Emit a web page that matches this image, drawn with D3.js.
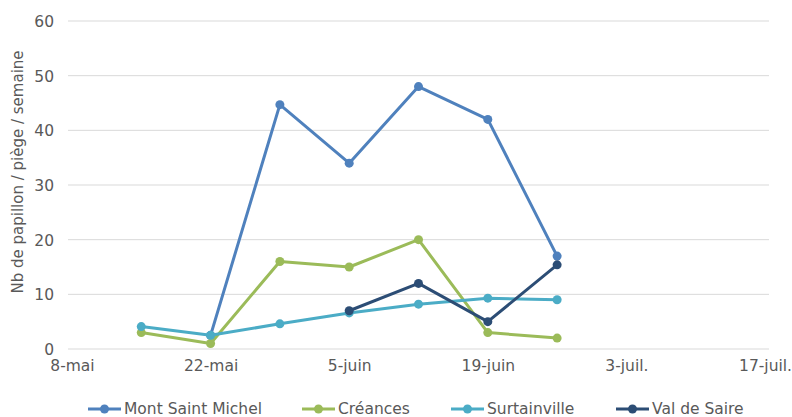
<!DOCTYPE html>
<html><head><meta charset="utf-8">
<script src="https://cdn.jsdelivr.net/npm/d3@7/dist/d3.min.js"></script>
<style>body{margin:0;background:#fff}svg{display:block}text{font-family:"DejaVu Sans",Verdana,sans-serif;fill:#595959}</style>
</head><body><svg id="c" width="792" height="417"></svg>
<script>
const dates = ["2018-05-15","2018-05-22","2018-05-29","2018-06-05","2018-06-12","2018-06-19","2018-06-26"];
const seriesNames = ["Mont Saint Michel","Créances","Surtainville","Val de Saire"];
const colors = ["#4f81bd","#9bbb59","#4bacc6","#2c4d75"];
const montSaintMichel = [null, 2.5, 44.7, 34, 48, 42, 17];
const creances = [3, 1, 16, 15, 20, 3, 2];
const surtainville = [4.1, 2.5, 4.6, 6.6, 8.2, 9.3, 9];
const valDeSaire = [null, null, null, 7, 12, 5, 15.4];
const xTicks = ["2018-05-08","2018-05-22","2018-06-05","2018-06-19","2018-07-03","2018-07-17"];
const xTickLabels = ["8-mai","22-mai","5-juin","19-juin","3-juil.","17-juil."];
const yTicks = [0,10,20,30,40,50,60];
const yTitle = "Nb de papillon / piège / semaine";

const values = [montSaintMichel, creances, surtainville, valDeSaire];
const parse = d3.timeParse("%Y-%m-%d");
const svg = d3.select("#c");
const day = 864e5;
const x0 = parse(xTicks[0]), x1 = parse(xTicks[xTicks.length-1]);
const x = d3.scaleTime().domain([new Date(+x0 - 0.4*day), new Date(+x1 + 0.4*day)]).range([68, 769]);
const y = d3.scaleLinear().domain([0, 60]).range([349, 21]);
const fs = "15.5px";

const grid = svg.append("g");
grid.selectAll("line").data(yTicks).join("line")
  .attr("x1", 68).attr("x2", 769)
  .attr("y1", d => y(d)).attr("y2", d => y(d))
  .attr("stroke", "#d9d9d9").attr("stroke-width", 1);

const yAxis = svg.append("g").attr("transform", "translate(68,0)")
  .call(d3.axisLeft(y).tickValues(yTicks).tickSize(0).tickPadding(14));
yAxis.select(".domain").remove();
yAxis.selectAll("text").style("font-size", fs).attr("fill", "#595959").attr("dy", "0.35em");

const xAxis = svg.append("g").attr("transform", "translate(0,349)")
  .call(d3.axisBottom(x).tickValues(xTicks.map(parse)).tickSize(0).tickPadding(11)
    .tickFormat((d, i) => xTickLabels[i]));
xAxis.select(".domain").remove();
xAxis.selectAll("text").style("font-size", fs).attr("fill", "#595959");

svg.append("text").attr("transform", "translate(23,172) rotate(-90)")
  .attr("text-anchor", "middle").style("font-size", "15px").text(yTitle);

const line = d3.line().defined(d => d.v != null).x(d => x(d.d)).y(d => y(d.v));
values.forEach((vals, si) => {
  const pts = vals.map((v, i) => ({d: parse(dates[i]), v}));
  svg.append("path").datum(pts).attr("d", line).attr("fill", "none")
    .attr("stroke", colors[si]).attr("stroke-width", 3).attr("stroke-linejoin", "round");
  svg.append("g").selectAll("circle").data(pts.filter(p => p.v != null)).join("circle")
    .attr("cx", p => x(p.d)).attr("cy", p => y(p.v)).attr("r", 4.5).attr("fill", colors[si]);
});

const legX = [88, 302, 451, 616];
const leg = svg.append("g");
seriesNames.forEach((n, i) => {
  const g = leg.append("g").attr("transform", `translate(${legX[i]},409)`);
  g.append("line").attr("x1", 0).attr("x2", 33).attr("stroke", colors[i]).attr("stroke-width", 3);
  g.append("circle").attr("cx", 16.5).attr("r", 4.5).attr("fill", colors[i]);
  g.append("text").attr("x", 36).attr("dy", "0.35em").style("font-size", fs).text(n);
});
</script></body></html>
